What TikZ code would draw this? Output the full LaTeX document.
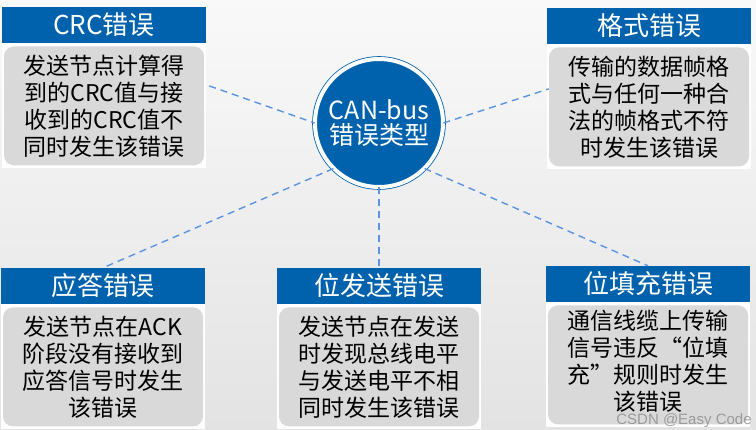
\documentclass[tikz,border=0pt]{standalone}
\usepackage{fontspec}
\setmainfont{Noto Sans CJK SC}
\newfontfamily\wmfont{Liberation Sans}
\usetikzlibrary{positioning,backgrounds}

\definecolor{headblue}{HTML}{0062AC}
\definecolor{bodygray}{HTML}{D9D9D9}
\definecolor{linkblue}{HTML}{5B93E3}
\definecolor{bgtop}{HTML}{F9F9F9}
\definecolor{bgbot}{HTML}{E3E3E3}

\begin{document}
\begin{tikzpicture}[x=1pt, y=-1pt,
    headbox/.style={fill=headblue, text=white, minimum width=204pt, minimum height=36pt,
        inner sep=0pt, font=\fontsize{26pt}{30pt}\selectfont},
    bodybox/.style={fill=bodygray, rounded corners=10pt, minimum width=200pt, minimum height=119pt,
        inner sep=0pt, align=center, font=\fontsize{23pt}{27pt}\selectfont},
    hub/.style={circle, fill=headblue, draw=headblue, line width=0.8pt, double=white,
        double distance=4pt, minimum size=128pt, inner sep=0pt, text=white, align=center,
        font=\fontsize{25pt}{25pt}\selectfont},
    link/.style={linkblue, dash pattern=on 7pt off 5pt, line width=1.4pt}]
    \useasboundingbox (0,0) rectangle (756,430);

    % ---- Centro ----
    \node[hub] (hub) at (379,123) {CAN-bus\\错误类型};

    % ---- Arriba: CRC y formato ----
    \node[headbox] (crchead) at (104,25) {CRC错误};
    \node[bodybox, below=3pt of crchead] (crcbody)
        {发送节点计算得\\到的CRC值与接\\收到的CRC值不\\同时发生该错误};

    \node[headbox] (fmthead) at (649,26) {格式错误};
    \node[bodybox, below=3pt of fmthead] (fmtbody)
        {传输的数据帧格\\式与任何一种合\\法的帧格式不符\\时发生该错误};

    % ---- Abajo: ACK, bit, relleno ----
    \node[headbox] (ackhead) at (103,286) {应答错误};
    \node[bodybox, below=3pt of ackhead] (ackbody)
        {发送节点在ACK\\阶段没有接收到\\应答信号时发生\\该错误};

    \node[headbox] (bithead) at (379,286) {位发送错误};
    \node[bodybox, below=3pt of bithead] (bitbody)
        {发送节点在发送\\时发现总线电平\\与发送电平不相\\同时发生该错误};

    \node[headbox] (stuffhead) at (648,284) {位填充错误};
    \node[bodybox, text depth=10pt, below=3pt of stuffhead] (stuffbody)
        {通信线缆上传输\\信号违反“位填\\充”规则时发生\\该错误};

    % ---- Lineas discontinuas ----
    \draw[link] ([xshift=5pt, yshift=20pt]crcbody.east) -- (hub.west);
    \draw[link] (hub.east) -- ([yshift=18pt]fmtbody.west);
    \draw[link] (hub.south west) -- (ackhead.north);
    \draw[link] (hub.south) -- (bithead.north);
    \draw[link] (hub.south east) -- (stuffhead.north);

    % marca de agua
    \node[text=gray, text opacity=0.7, inner sep=0pt, font=\wmfont\fontsize{15pt}{16pt}\selectfont]
        (wmark) at (684,421) {CSDN @Easy Code};

    % ---- Fondo y marcos blancos ----
    \begin{scope}[on background layer]
        \shade[top color=bgtop, bottom color=bgbot] (0,0) rectangle (756,430);
        \fill[white] (crchead.north west) rectangle ([xshift=2pt, yshift=-2pt]crcbody.south east);
        \fill[white] (fmthead.north west) rectangle ([xshift=2pt, yshift=-2pt]fmtbody.south east);
        \fill[white] (ackhead.north west) rectangle ([xshift=2pt, yshift=-2pt]ackbody.south east);
        \fill[white] (bithead.north west) rectangle ([xshift=2pt, yshift=-2pt]bitbody.south east);
        \fill[white] (stuffhead.north west) rectangle ([xshift=2pt, yshift=-2pt]stuffbody.south east);
    \end{scope}
\end{tikzpicture}
\end{document}
